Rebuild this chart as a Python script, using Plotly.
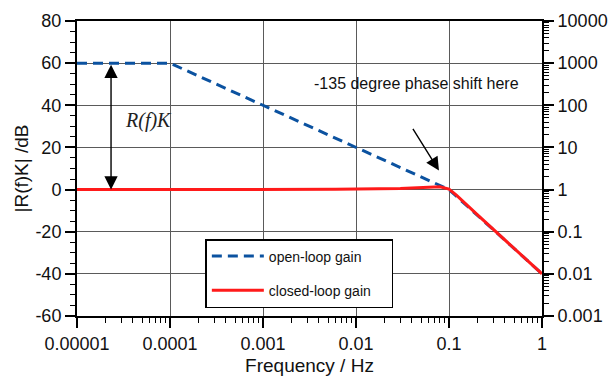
import plotly.graph_objects as go

# ---- data ----
open_freq = [1e-5, 1e-4, 0.1, 1.0]
open_db = [60, 60, 0, -40]

closed_freq = [1e-5, 0.001, 0.006, 0.03, 0.06, 0.08, 0.1, 0.12, 0.2, 0.5, 1.0]
closed_db = [0, 0, 0.1, 0.5, 1.1, 1.3, 0.2, -2.6, -11.8, -27.9, -40]

freq_ticks = [1e-5, 1e-4, 1e-3, 1e-2, 1e-1, 1]
freq_labels = ["0.00001", "0.0001", "0.001", "0.01", "0.1", "1"]
db_ticks = [-60, -40, -20, 0, 20, 40, 60, 80]
db_labels = ["-60", "-40", "-20", "0", "20", "40", "60", "80"]
mag_ticks = [0.001, 0.01, 0.1, 1, 10, 100, 1000, 10000]
mag_labels = ["0.001", "0.01", "0.1", "1", "10", "100", "1000", "10000"]

# annotation geometry (log10 frequency, dB)
rk_arrow_x = -4.634
rk_box = (-4.581, -3.860, 25.2, 40.5)
rk_label = (-4.226, 32.9)
phase_box = (-2.656, 0.0, 30.5, 59.5)
phase_label = (-2.473, 50.5)
phase_tip = (-1.108, 9.0)
phase_tail = (-1.398, 29.5)

FONT = "Liberation Sans, Arial, sans-serif"
BLUE = "#0b52a0"
RED = "#ff1a1a"
GRID = "#5a5a5a"
PAD = "\u00a0" * 4

fig = go.Figure()
fig.add_trace(go.Scatter(
    x=open_freq, y=open_db, mode="lines", name="open-loop gain" + PAD,
    legendgroup="a",
    line=dict(color=BLUE, width=3, dash="10px,6px")))
fig.add_trace(go.Scatter(
    x=closed_freq, y=closed_db, mode="lines", name="closed-loop gain" + PAD,
    legendgroup="b",
    line=dict(color=RED, width=3)))
# same open-loop curve expressed as magnitude ratio on the right axis (invisible)
fig.add_trace(go.Scatter(
    x=open_freq, y=[10 ** (v / 20) for v in open_db], yaxis="y2",
    mode="lines", line=dict(color="rgba(0,0,0,0)", width=0),
    showlegend=False, hoverinfo="skip"))

for (x0, x1, y0, y1) in (rk_box, phase_box):
    fig.add_shape(type="rect", xref="x", yref="y",
                  x0=x0, x1=x1, y0=y0, y1=y1,
                  fillcolor="white", line=dict(width=0), layer="between")

fig.add_annotation(x=rk_arrow_x, y=0, ax=rk_arrow_x, ay=60,
                   xref="x", yref="y", axref="x", ayref="y",
                   text="", showarrow=True, arrowside="end+start",
                   arrowhead=2, arrowsize=1.9, arrowwidth=1.4,
                   arrowcolor="black", standoff=0, startstandoff=0)
fig.add_annotation(x=rk_label[0], y=rk_label[1], xref="x", yref="y",
                   text="<i>R(f)K</i>", showarrow=False,
                   font=dict(family="Liberation Serif, Times New Roman, serif",
                             size=20, color="#222"))
fig.add_annotation(x=phase_label[0], y=phase_label[1], xref="x", yref="y",
                   text="-135 degree phase shift here", showarrow=False,
                   xanchor="left",
                   font=dict(family=FONT, size=16, color="#111"))
fig.add_annotation(x=phase_tip[0], y=phase_tip[1],
                   ax=phase_tail[0], ay=phase_tail[1],
                   xref="x", yref="y", axref="x", ayref="y",
                   text="", showarrow=True, arrowhead=2, arrowsize=1.9,
                   arrowwidth=1.4, arrowcolor="black", standoff=0)

fig.update_layout(
    width=610, height=376,
    margin=dict(l=77, r=68, t=21, b=60, autoexpand=False),
    plot_bgcolor="white", paper_bgcolor="white",
    font=dict(family=FONT, size=18, color="#111"),
    showlegend=True,
    legend=dict(x=0.276, y=0.261, xanchor="left", yanchor="top",
                bordercolor="black", borderwidth=1.5, bgcolor="white",
                font=dict(family=FONT, size=14, color="#111"),
                traceorder="grouped", tracegroupgap=13, itemwidth=52),
    xaxis=dict(type="log", range=[-5, 0], tickvals=freq_ticks,
               ticktext=freq_labels, ticks="outside", ticklen=10,
               tickwidth=1.5, tickcolor="black", automargin=False,
               showline=True, linewidth=2, linecolor="black", mirror=True,
               showgrid=True, gridcolor=GRID, gridwidth=1,
               minor=dict(ticks="outside", ticklen=5, tickwidth=1,
                          tickcolor="black", dtick="D1", showgrid=False),
               title=dict(text="Frequency / Hz", standoff=6,
                          font=dict(size=19))),
    yaxis=dict(range=[-60, 80], tickvals=db_ticks, ticktext=db_labels,
               ticks="outside", automargin=False,
               ticklen=10, tickwidth=1.5, tickcolor="black",
               showline=True, linewidth=2, linecolor="black",
               zeroline=False, showgrid=True, gridcolor=GRID, gridwidth=1,
               minor=dict(ticks="outside", ticklen=5, tickwidth=1,
                          tickcolor="black", dtick=5, showgrid=False),
               title=dict(text="|R(f)K| /dB", standoff=2,
                          font=dict(size=19))),
    yaxis2=dict(type="log", range=[-3, 4], overlaying="y", side="right",
                tickvals=mag_ticks, ticktext=mag_labels, ticks="outside",
                ticklen=10, tickwidth=1.5, tickcolor="black",
                automargin=False,
                showline=True, linewidth=2, linecolor="black",
                showgrid=False, zeroline=False,
                minor=dict(ticks="outside", ticklen=5, tickwidth=1,
                           tickcolor="black", dtick="D1", showgrid=False)),
)

fig.write_html("out.html")
